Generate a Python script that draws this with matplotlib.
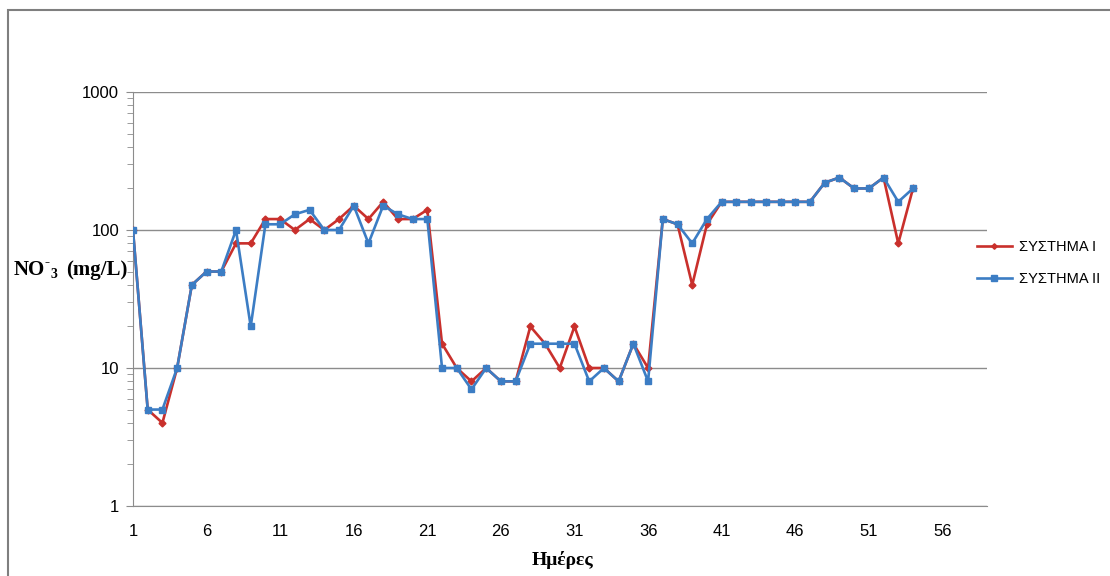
"""Nitrate (NO3-) concentration over time for the two systems, log scale."""

import matplotlib.pyplot as plt
from matplotlib.patches import Rectangle
from matplotlib.ticker import FixedLocator, LogLocator, NullFormatter

plt.rcParams["font.family"] = ["Liberation Sans", "DejaVu Sans"]

days = list(range(1, 55))

system_1 = [
    100, 5, 4, 10, 40, 50, 50, 80, 80, 120,
    120, 100, 120, 100, 120, 150, 120, 160, 120, 120,
    140, 15, 10, 8, 10, 8, 8, 20, 15, 10,
    20, 10, 10, 8, 15, 10, 120, 110, 40, 110,
    160, 160, 160, 160, 160, 160, 160, 220, 240, 200,
    200, 240, 80, 200,
]

system_2 = [
    100, 5, 5, 10, 40, 50, 50, 100, 20, 110,
    110, 130, 140, 100, 100, 150, 80, 150, 130, 120,
    120, 10, 10, 7, 10, 8, 8, 15, 15, 15,
    15, 8, 10, 8, 15, 8, 120, 110, 80, 120,
    160, 160, 160, 160, 160, 160, 160, 220, 240, 200,
    200, 240, 160, 200,
]

series_names = ["ΣΥΣΤΗΜΑ I", "ΣΥΣΤΗΜΑ II"]
x_ticks = list(range(1, 57, 5))

red = "#C9302C"
blue = "#3C7DC4"
grid_gray = "#8C8C8C"

fig = plt.figure(figsize=(11.1, 5.76), dpi=100)
ax = fig.add_axes([0.1198, 0.1215, 0.769, 0.7188])

ax.plot(days, system_1, color=red, lw=1.9, marker="D", ms=3.5,
        label=series_names[0], zorder=3)
ax.plot(days, system_2, color=blue, lw=1.9, marker="s", ms=5,
        label=series_names[1], zorder=4)

ax.set_yscale("log")
ax.set_ylim(1, 1000)
ax.set_xlim(1, 59)
ax.yaxis.set_major_locator(FixedLocator([1, 10, 100, 1000]))
ax.set_yticklabels(["1", "10", "100", "1000"])
ax.yaxis.set_minor_locator(LogLocator(base=10, subs=range(2, 10)))
ax.yaxis.set_minor_formatter(NullFormatter())
ax.set_xticks(x_ticks)
ax.set_xticklabels([str(t) for t in x_ticks])

ax.grid(axis="y", which="major", color=grid_gray, lw=1)
for side in ("top", "right"):
    ax.spines[side].set_visible(False)
for side in ("left", "bottom"):
    ax.spines[side].set_color(grid_gray)
ax.tick_params(axis="y", which="major", length=5, color=grid_gray, labelsize=12, pad=5)
ax.tick_params(axis="y", which="minor", length=4, color=grid_gray)
ax.tick_params(axis="x", length=0, labelsize=12, pad=13)

# y label: NO with a small raised hyphen and lowered 3
ylab_y = 1 - 270 / 576
serif = ["Liberation Serif", "DejaVu Serif"]
t = fig.text(0.012, ylab_y, "NO", family=serif, fontweight="bold",
             fontsize=15, va="center", ha="left")
fig.canvas.draw()
bb = t.get_window_extent().transformed(fig.transFigure.inverted())
fig.text(bb.x1, ylab_y + 0.012, "-", family=serif, fontweight="bold",
         fontsize=11, va="center", ha="left")
fig.text(bb.x1 + 0.005, ylab_y - 0.008, "3", family=serif, fontweight="bold",
         fontsize=10, va="center", ha="left")
fig.text(bb.x1 + 0.019, ylab_y, "(mg/L)", family=serif, fontweight="bold",
         fontsize=15, va="center", ha="left")

fig.text(563 / 1110, 1 - 560 / 576, "Ημέρες", family=serif,
         fontweight="bold", fontsize=14, ha="center", va="center")

ax.legend(loc="center left", bbox_to_anchor=(0.868, 1 - 263 / 576),
          bbox_transform=fig.transFigure, frameon=False, fontsize=10.5,
          handlelength=2.4, labelspacing=1.25, handletextpad=0.5,
          markerscale=0.8)

fig.patches.append(Rectangle((8 / 1110, -0.05), 1.2, 1 - 10 / 576 + 0.05,
                             transform=fig.transFigure, fill=False,
                             edgecolor="#7F7F7F", lw=1.5))

fig.savefig("out.png", dpi=100)
